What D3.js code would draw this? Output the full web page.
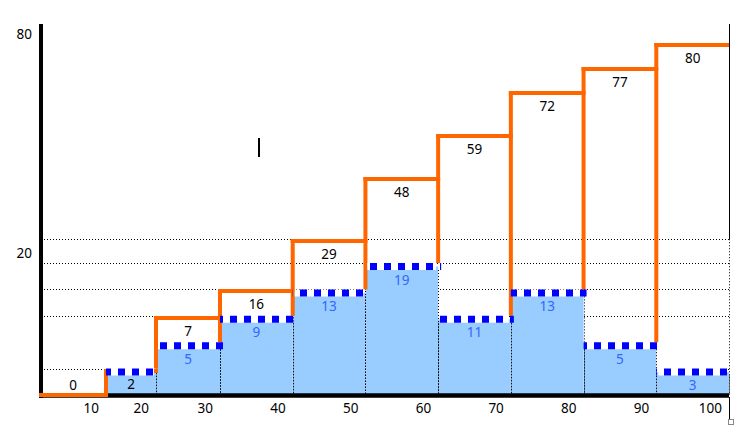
<!DOCTYPE html>
<html><head><meta charset="utf-8">
<script src="https://cdn.jsdelivr.net/npm/d3@7"></script>
<style>
body{margin:0;background:#fff}
svg{display:block}
text{font-family:"Noto Sans",sans-serif;font-size:13.5px}
</style>
</head><body>
<svg id="c" width="755" height="432"></svg>
<script>
// ---- data ----
const BINS = [10,20,30,40,50,60,70,80,90,100];
const FREQ = [0,2,5,9,13,19,11,13,5,3];
const CUM  = [0,2,7,16,29,48,59,72,77,80];
const FREQ_STEP = 4;                       // bar heights snap up to multiples of 4
const GRID_LEVELS = [4,12,16,20,23.6];     // dotted grid levels (frequency units)
const CUM_STOPS = [0,2,7,16,29,48,59,72,77,80]; // calibration stops of the cumulative axis
const LEFT_TICKS = [{v:20, axis:"freq"}, {v:80, axis:"cum"}];

// ---- scales ----
const svg = d3.select("#c");
const x = d3.scaleLinear().domain([0,10,20,30,100]).range([40,106,156,220,729]);
const yF = d3.scaleLinear().domain([0,20]).range([395,263]);
const yC = d3.scaleLinear().domain(CUM_STOPS).range([395,371,318,291,241,179,136,93,69,45]);
const snap = v => Math.ceil(v / FREQ_STEP) * FREQ_STEP;

const ORANGE = "#FF6600", BLUE = "#0000FF", FILL = "#99CCFF", BTEXT = "#3366FF";
const baseY = yF(0);
const x0 = i => x(BINS[i] - 10), x1 = i => x(BINS[i]);

// gridlines
svg.append("g").selectAll("line").data(GRID_LEVELS).join("line")
  .attr("x1", 44).attr("x2", x(100))
  .attr("y1", d => Math.round(yF(d)) + 0.5).attr("y2", d => Math.round(yF(d)) + 0.5)
  .attr("stroke", "#000").attr("stroke-width", 1).attr("stroke-dasharray", "1,2");

// bars
const bars = FREQ.map((f, i) => ({f, i, q: snap(f)})).filter(d => d.f > 0);
svg.append("g").selectAll("rect").data(bars).join("rect")
  .attr("x", d => x0(d.i)).attr("width", d => x1(d.i) - x0(d.i))
  .attr("y", d => yF(d.q) + 3.5).attr("height", d => baseY - yF(d.q) - 3.5)
  .attr("fill", FILL);
// dotted bar sides
const sides = [];
bars.forEach(d => { sides.push({x: x0(d.i), y: yF(d.q) + 7}); sides.push({x: x1(d.i), y: yF(d.q) + 7}); });
svg.append("g").selectAll("line").data(sides).join("line")
  .attr("x1", d => Math.round(d.x) + 0.5).attr("x2", d => Math.round(d.x) + 0.5)
  .attr("y1", d => d.y).attr("y2", baseY)
  .attr("stroke", "#000").attr("stroke-width", 1).attr("stroke-dasharray", "1,2");

// axes
const axis = svg.append("g");
axis.append("line").attr("x1", 41).attr("x2", 41).attr("y1", 24).attr("y2", 398)
  .attr("stroke", "#000").attr("stroke-width", 4);
axis.append("line").attr("x1", 39).attr("x2", x(100)).attr("y1", 395.5).attr("y2", 395.5)
  .attr("stroke", "#000").attr("stroke-width", 4.5);
axis.append("line").attr("x1", x(100) + 0.5).attr("x2", x(100) + 0.5).attr("y1", 24).attr("y2", yF(23.6))
  .attr("stroke", "#000").attr("stroke-width", 1);
axis.append("line").attr("x1", x(100) + 0.5).attr("x2", x(100) + 0.5).attr("y1", yF(23.6)).attr("y2", 394)
  .attr("stroke", "#000").attr("stroke-width", 1).attr("stroke-dasharray", "1,2");
axis.append("line").attr("x1", x(100) + 0.5).attr("x2", x(100) + 0.5).attr("y1", 397).attr("y2", 419)
  .attr("stroke", "#000").attr("stroke-width", 1);
axis.append("rect").attr("x", x(100) - 0.5).attr("y", 419.5).attr("width", 5).attr("height", 5)
  .attr("fill", "#fff").attr("stroke", "#888").attr("stroke-width", 1);

// cumulative step line
const og = svg.append("g").attr("stroke", ORANGE).attr("stroke-width", 4).attr("fill", "none");
CUM.forEach((c, i) => {
  const xa = i === 0 ? x0(i) - 1 : x0(i) - 2;
  const xb = i === CUM.length - 1 ? x1(i) : x1(i) + 2;
  og.append("line").attr("x1", xa).attr("x2", xb).attr("y1", yC(c)).attr("y2", yC(c));
  if (i > 0) {
    og.append("line").attr("x1", x0(i)).attr("x2", x0(i))
      .attr("y1", yF(snap(FREQ[i - 1]))).attr("y2", yC(c) - 2);
  }
});

// frequency step line (white + blue square dashes)
const bg = svg.append("g");
bars.forEach(d => {
  const yy = yF(d.q) + 3.5;
  bg.append("line").attr("x1", x0(d.i) + 2).attr("x2", x1(d.i) - 2).attr("y1", yy).attr("y2", yy)
    .attr("stroke", "#fff").attr("stroke-width", 7);
  const off = ((x0(d.i) - 6) % 14 + 14) % 14;
  bg.append("line").attr("x1", x0(d.i)).attr("x2", x1(d.i) + 3).attr("y1", yy).attr("y2", yy)
    .attr("stroke", BLUE).attr("stroke-width", 7)
    .attr("stroke-dasharray", "7,7").attr("stroke-dashoffset", off);
});

// frequency labels (blue)
svg.append("g").selectAll("text").data(bars.filter(d => d.f !== CUM[d.i])).join("text")
  .attr("x", d => (x0(d.i) + x1(d.i)) / 2).attr("y", d => yF(d.q) + 16.5 + 5)
  .attr("text-anchor", "middle").attr("fill", BTEXT).text(d => d.f);

// cumulative labels (black)
svg.append("g").selectAll("text").data(CUM).join("text")
  .attr("x", (d, i) => (x0(i) + x1(i)) / 2)
  .attr("y", d => Math.min(yC(d) + 12.5, 385) + 5)
  .attr("text-anchor", "middle").attr("fill", "#000").text(d => d);

// x tick labels
svg.append("g").selectAll("text").data(BINS).join("text")
  .attr("x", d => x(d) - 7).attr("y", 408 + 5)
  .attr("text-anchor", "end").attr("fill", "#000").text(d => d);

// left tick labels
svg.append("g").selectAll("text").data(LEFT_TICKS).join("text")
  .attr("x", 32).attr("y", d => (d.axis === "freq" ? yF(d.v) - 10 : yC(d.v) - 11) + 5)
  .attr("text-anchor", "end").attr("fill", "#000").text(d => d.v);

// stray cursor mark
svg.append("line").attr("x1", 259).attr("x2", 259).attr("y1", 138).attr("y2", 157)
  .attr("stroke", "#000").attr("stroke-width", 2);
</script>
</body></html>
